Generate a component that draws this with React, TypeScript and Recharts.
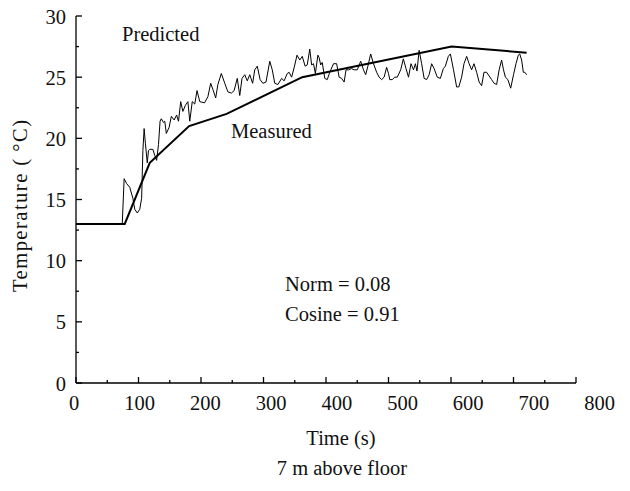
import { Line, LineChart, XAxis, YAxis } from "recharts";

const FONT = '"Liberation Serif", "Times New Roman", serif';

// measured temperature, 7 m above floor
const MEASURED_T = [0, 78, 118, 181, 241, 362, 601, 721];
const MEASURED_V = [13, 13, 18, 21, 22, 25, 27.5, 27];

// predicted (noisy) temperature
const PREDICTED_T = [
  0, 74, 77, 81, 86, 91, 94, 98, 102, 105, 107, 109, 111, 114, 116, 118, 123, 126, 129, 132,
  134.5, 136.5, 140, 142, 144.5, 149, 152.5, 157, 161, 164, 167.5, 171, 175, 179, 182, 186, 190, 193.6, 198, 205.6,
  211, 215.5, 219, 223.5, 227, 232.5, 238, 243, 248.6, 253, 258, 262, 265.6, 270, 274, 278, 282.6, 286, 290, 294.6,
  299, 304, 310, 314, 318, 323, 329, 333, 338, 341, 345, 349.6, 353.6, 358, 362, 366.6, 370, 374, 377, 380,
  383, 387, 389, 391.5, 394, 398, 402, 406, 412, 417, 421, 425, 429, 432, 436, 441, 445, 450, 455.5, 460,
  463.5, 467, 471.5, 476, 481, 485, 489, 493, 497, 500, 502, 506, 510, 514, 519.5, 523.7, 528, 532, 536, 540,
  543, 545.6, 549, 553, 557, 561, 565, 569, 573, 578, 583, 587.7, 591, 595.7, 599, 604, 609, 612.5, 617, 620.8,
  625, 629, 633, 636.8, 641, 645, 649, 652.8, 657, 661, 665, 669, 673, 677, 681, 684, 687, 691, 695.5, 700,
  704, 707.7, 710, 713, 715.7, 718, 721,
];
const PREDICTED_V = [
  13, 13, 16.7, 16.3, 16.0, 15.1, 14.2, 13.9, 14.2, 15.1, 19.0, 20.8, 19.6, 18.0, 19.0, 19.1, 19.1, 18.6, 18.2, 19.5,
  21.4, 21.6, 21.3, 21.4, 20.4, 20.9, 21.8, 21.5, 21.9, 21.4, 23.0, 22.2, 22.7, 23.0, 21.4, 23.0, 22.8, 23.9, 23.0, 22.9,
  23.4, 24.5, 24.0, 23.3, 24.4, 25.3, 24.5, 23.8, 23.7, 23.9, 24.9, 23.5, 24.9, 25.2, 24.7, 25.2, 24.5, 25.6, 25.9, 24.8,
  24.5, 24.6, 26.3, 25.6, 24.5, 24.4, 24.9, 24.7, 25.3, 25.4, 25.0, 25.9, 26.8, 26.4, 26.7, 25.9, 26.0, 27.3, 26.0, 26.1,
  25.3, 26.8, 26.6, 26.0, 26.2, 24.9, 24.8, 25.4, 26.1, 26.1, 25.0, 24.9, 24.6, 25.6, 25.6, 25.7, 25.6, 25.6, 26.3, 25.6,
  25.2, 25.9, 26.9, 26.1, 25.4, 25.0, 24.8, 25.0, 25.8, 25.3, 24.8, 24.8, 25.0, 25.0, 25.6, 26.5, 25.7, 25.0, 26.1, 25.6,
  26.1, 25.5, 27.2, 26.1, 24.9, 24.8, 25.2, 26.1, 25.7, 25.0, 24.9, 25.7, 25.9, 26.7, 26.9, 25.6, 24.2, 24.2, 25.0, 26.1,
  26.7, 26.1, 25.6, 26.1, 25.4, 24.6, 24.3, 25.4, 25.4, 25.1, 24.8, 24.5, 24.4, 25.6, 26.4, 25.6, 25.0, 24.8, 24.1, 25.2,
  26.1, 26.8, 26.9, 26.4, 25.4, 25.4, 25.2,
];

const X_TICKS = [0, 50, 100, 150, 200, 250, 300, 350, 400, 450, 500, 550, 600, 650, 700, 750, 800];
const Y_TICKS = [0, 2.5, 5, 7.5, 10, 12.5, 15, 17.5, 20, 22.5, 25, 27.5, 30];

const measured = MEASURED_T.map((t, i) => ({ t, v: MEASURED_V[i] }));
const predicted = PREDICTED_T.map((t, i) => ({ t, v: PREDICTED_V[i] }));

const XTick = (props: any) => {
  const { x, y, payload } = props;
  const v = payload.value;
  const major = v % 100 === 0;
  return (
    <g>
      <line x1={x} y1={y} x2={x} y2={y - (major ? 6 : 3)} stroke="#000" strokeWidth={1.3} />
      {major && (
        <text x={x + v * 0.032 - 2} y={y + 27} textAnchor="middle" fontFamily={FONT} fontSize={20.5} fill="#111">
          {v}
        </text>
      )}
    </g>
  );
};

const YTick = (props: any) => {
  const { x, y, payload } = props;
  const v = payload.value;
  const major = v % 5 === 0;
  return (
    <g>
      <line x1={x} y1={y} x2={x + (major ? 6 : 3)} y2={y} stroke="#000" strokeWidth={1.3} />
      {major && (
        <text x={x - 10} y={y + 7.5} textAnchor="end" fontFamily={FONT} fontSize={20.5} fill="#111">
          {v}
        </text>
      )}
    </g>
  );
};

export default function App() {
  const txt = { fontFamily: FONT, fontSize: 20.5, fill: "#111" };
  return (
    <div style={{ position: "absolute", left: 0, top: 0, width: 630, height: 491, background: "#fff" }}>
      <LineChart width={630} height={491} margin={{ top: 16, right: 54, left: 0, bottom: 78 }}>
        <XAxis
          dataKey="t"
          type="number"
          domain={[0, 800]}
          ticks={X_TICKS}
          interval={0}
          height={30}
          tickSize={0}
          tickMargin={0}
          tickLine={false}
          axisLine={{ stroke: "#000", strokeWidth: 1.3 }}
          tick={<XTick />}
        />
        <YAxis
          type="number"
          domain={[0, 30]}
          ticks={Y_TICKS}
          interval={0}
          width={76}
          tickSize={0}
          tickMargin={0}
          tickLine={false}
          axisLine={{ stroke: "#000", strokeWidth: 1.3 }}
          tick={<YTick />}
        />
        <Line data={predicted} dataKey="v" type="linear" stroke="#000" strokeWidth={1} dot={false} activeDot={false} isAnimationActive={false} />
        <Line data={measured} dataKey="v" type="linear" stroke="#000" strokeWidth={2} dot={false} activeDot={false} isAnimationActive={false} />
      </LineChart>
      <svg width={630} height={491} style={{ position: "absolute", left: 0, top: 0, pointerEvents: "none" }}>
        <text x={122} y={41} {...txt}>Predicted</text>
        <text x={231} y={137.5} {...txt}>Measured</text>
        <text x={285} y={291} {...txt}>Norm = 0.08</text>
        <text x={285} y={321} {...txt}>Cosine = 0.91</text>
        <text x={341} y={445} textAnchor="middle" {...txt}>Time (s)</text>
        <text x={342} y={475} textAnchor="middle" {...txt}>7 m above floor</text>
        <text x={27} y={206} textAnchor="middle" transform="rotate(-90 27 206)" {...txt} textLength={172}>
          Temperature ({"\u2009"}°C)
        </text>
      </svg>
    </div>
  );
}
